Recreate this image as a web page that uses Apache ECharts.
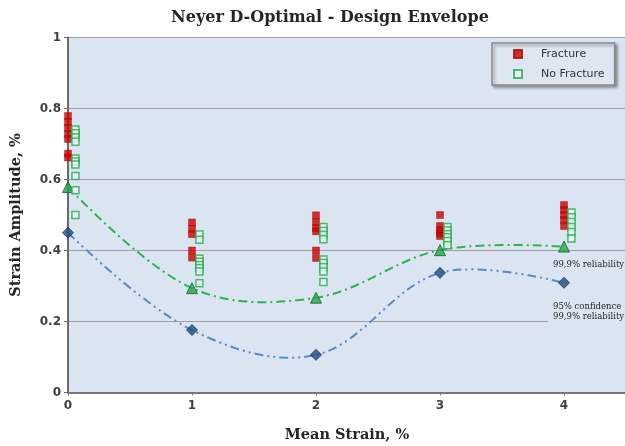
<!DOCTYPE html>
<html>
<head>
<meta charset="utf-8">
<script src="https://cdn.jsdelivr.net/npm/echarts@6/dist/echarts.min.js"></script>
<style>
html,body{margin:0;padding:0;background:#fff;}
#chart{width:625px;height:446px;}
</style>
</head>
<body>
<div id="chart"></div>
<script>
// Mean strain levels (x)
const meanStrain = [0, 1, 2, 3, 4];

// Fracture results (strain amplitude, %) at each mean strain level
const fractureAt0 = [0.779, 0.762, 0.745, 0.728, 0.714, 0.673, 0.662];
const fractureAt1 = [0.479, 0.461, 0.446, 0.400, 0.380];
const fractureAt2 = [0.499, 0.480, 0.463, 0.454, 0.400, 0.379];
const fractureAt3 = [0.500, 0.469, 0.458, 0.448, 0.441];
const fractureAt4 = [0.528, 0.514, 0.500, 0.486, 0.469];

// No-fracture (run-out) results
const noFractureAt0 = [0.741, 0.730, 0.718, 0.706, 0.659, 0.651, 0.642, 0.610, 0.570, 0.500];
const noFractureAt1 = [0.445, 0.430, 0.377, 0.368, 0.359, 0.351, 0.341, 0.308];
const noFractureAt2 = [0.466, 0.455, 0.444, 0.432, 0.375, 0.365, 0.353, 0.341, 0.311];
const noFractureAt3 = [0.466, 0.456, 0.446, 0.437, 0.427, 0.415];
const noFractureAt4 = [0.507, 0.494, 0.480, 0.466, 0.452, 0.434];

// Design envelope curves
const reliability999 = [0.579, 0.294, 0.267, 0.401, 0.411];
const conf95reliability999 = [0.450, 0.176, 0.106, 0.337, 0.309];

// Tick values
const yTicks = [0, 0.2, 0.4, 0.6, 0.8, 1];
const xTicks = [0, 1, 2, 3, 4];

const fractureLevels = [fractureAt0, fractureAt1, fractureAt2, fractureAt3, fractureAt4];
const noFractureLevels = [noFractureAt0, noFractureAt1, noFractureAt2, noFractureAt3, noFractureAt4];
const noFractureShift = 0.06; // side-by-side display shift

function pairs(levels, shift) {
  const out = [];
  levels.forEach((vals, i) => vals.forEach(v => out.push([meanStrain[i] + shift, v])));
  return out;
}

// Smoothed curve (Excel-like spline) drawn through the axis scales
function curveSeries(name, values, color, dash) {
  return {
    name: name, type: 'custom',
    data: meanStrain.map((x, i) => [x, values[i]]),
    encode: {x: 0, y: 1},
    clip: true,
    z: 2,
    renderItem: function (params, api) {
      if (params.dataIndex !== 0) return null;
      const pts = meanStrain.map((x, i) => api.coord([x, values[i]]));
      return {
        type: 'polyline',
        shape: {points: pts, smooth: 0.36},
        style: {stroke: color, lineWidth: 2, fill: null, lineDash: dash}
      };
    }
  };
}

const chart = echarts.init(document.getElementById('chart'), null, {renderer: 'canvas'});

chart.setOption({
  animation: false,
  backgroundColor: '#ffffff',
  grid: {
    left: 68, right: -1, top: 37.5, bottom: 53.5,
    outerBoundsMode: 'none', containLabel: false,
    show: true, backgroundColor: '#dbe5f1', borderColor: '#5f5f5f', borderWidth: 1
  },
  legend: {
    orient: 'vertical',
    left: 492, top: 43,
    padding: [4, 10, 4, 21],
    itemGap: 6,
    itemWidth: 8, itemHeight: 8,
    data: ['Fracture', 'No Fracture'],
    backgroundColor: '#dde6f1',
    borderColor: '#8a8a8a', borderWidth: 1.5,
    shadowColor: 'rgba(0,0,0,0.35)', shadowBlur: 3, shadowOffsetX: 2, shadowOffsetY: 2,
    textStyle: {fontFamily: '"DejaVu Sans", sans-serif', fontSize: 11, color: '#333', lineHeight: 14, padding: [0, 0, 0, 14]}
  },
  xAxis: {
    type: 'value', min: 0, max: 4.5, interval: 1,
    name: 'Mean Strain, %', nameLocation: 'middle', nameGap: 35,
    nameTextStyle: {fontFamily: '"DejaVu Serif", serif', fontWeight: 'bold', fontSize: 14.5, color: '#262626'},
    axisLine: {show: true, lineStyle: {color: '#7a7a7a', width: 2}},
    axisTick: {show: true, length: 3, lineStyle: {color: '#7a7a7a'}},
    axisLabel: {
      fontFamily: '"DejaVu Sans", sans-serif', fontWeight: 'bold', fontSize: 12, color: '#404040', margin: 7,
      formatter: v => xTicks.includes(v) ? String(v) : ''
    },
    splitLine: {show: false}
  },
  yAxis: {
    type: 'value', min: 0, max: 1, interval: 0.2,
    name: 'Strain Amplitude, %', nameLocation: 'middle', nameGap: 44,
    nameTextStyle: {fontFamily: '"DejaVu Serif", serif', fontWeight: 'bold', fontSize: 14.5, color: '#262626'},
    axisLine: {show: true, lineStyle: {color: '#6a6a6a', width: 2}},
    axisTick: {show: true, length: 4, lineStyle: {color: '#6a6a6a'}},
    axisLabel: {
      fontFamily: '"DejaVu Sans", sans-serif', fontWeight: 'bold', fontSize: 12, color: '#404040', margin: 7,
      formatter: v => yTicks.includes(Math.round(v * 10) / 10) ? String(Math.round(v * 10) / 10) : ''
    },
    splitLine: {show: true, lineStyle: {color: '#a0a0a0', width: 1}}
  },
  graphic: [
    {type: 'text', x: 330, y: 18, style: {text: 'Neyer D-Optimal - Design Envelope', font: 'bold 16px "DejaVu Serif", serif', fill: '#262626', align: 'center', verticalAlign: 'middle'}},
    {type: 'text', x: 553, y: 265, z: 10, style: {text: '99,9% reliability', font: '8.5px "DejaVu Serif", serif', fill: '#262626', align: 'left', verticalAlign: 'middle'}},
    {type: 'text', x: 548, y: 302, z: 10, style: {text: '95% confidence\n99,9% reliability', font: '8.5px "DejaVu Serif", serif', lineHeight: 10, fill: '#262626', align: 'left', verticalAlign: 'top', backgroundColor: '#dbe5f1', padding: [0, 2, 0, 5]}}
  ],
  series: [
    curveSeries('99,9% reliability curve', reliability999, '#2eb34f', [9, 4, 2, 4]),
    curveSeries('95% confidence 99,9% reliability curve', conf95reliability999, '#5a8ac6', [9, 4, 2, 4, 2, 4]),
    {
      name: '99,9% reliability', type: 'scatter',
      data: meanStrain.map((x, i) => [x, reliability999[i]]),
      symbol: 'triangle', symbolSize: 11,
      itemStyle: {color: '#27a347', borderColor: '#0d6b27', borderWidth: 1},
      z: 3
    },
    {
      name: '95% confidence 99,9% reliability', type: 'scatter',
      data: meanStrain.map((x, i) => [x, conf95reliability999[i]]),
      symbol: 'diamond', symbolSize: 11,
      itemStyle: {color: '#1f4a7e', borderColor: '#17375e', borderWidth: 1},
      z: 3
    },
    {
      name: 'Fracture', type: 'scatter',
      data: pairs(fractureLevels, 0),
      symbol: 'rect', symbolSize: 7,
      itemStyle: {color: '#cc0000', borderColor: '#b30000', borderWidth: 0.5},
      z: 4
    },
    {
      name: 'No Fracture', type: 'scatter',
      data: pairs(noFractureLevels, noFractureShift),
      symbol: 'rect', symbolSize: 7,
      itemStyle: {color: '#eef4fa', borderColor: '#1fae4a', borderWidth: 1.5},
      z: 4
    }
  ]
});
</script>
</body>
</html>
